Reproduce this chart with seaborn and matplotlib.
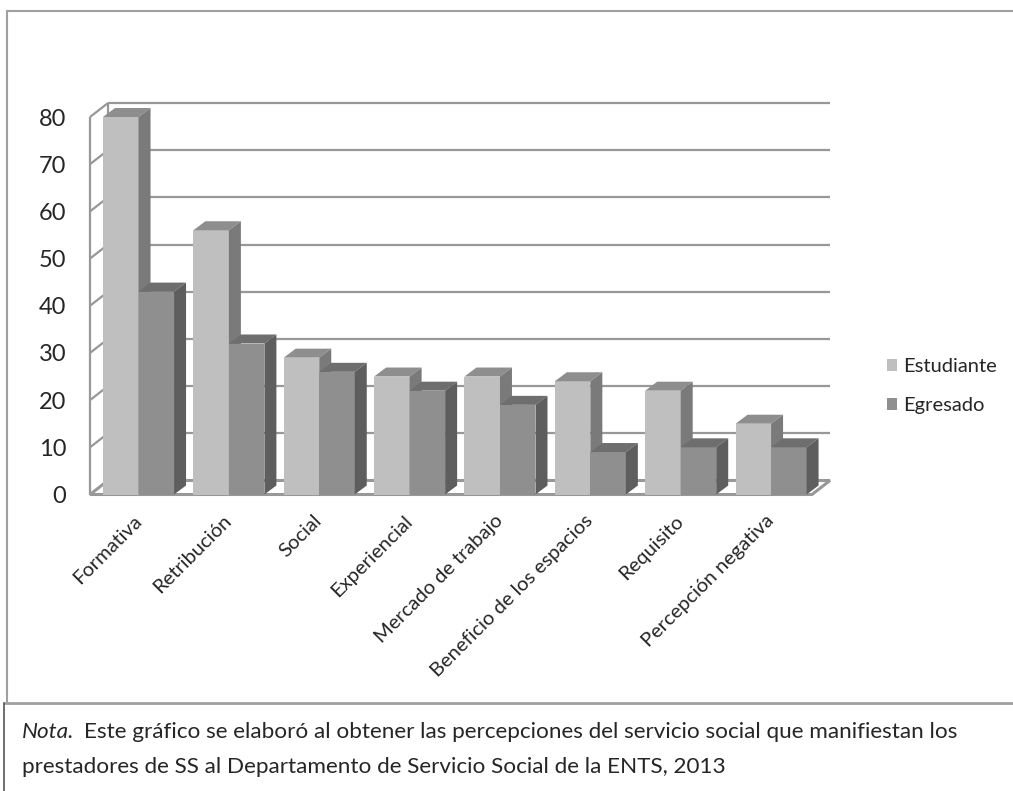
import pandas as pd
import seaborn as sns
import matplotlib.pyplot as plt
from matplotlib.patches import Polygon, Patch
from matplotlib.lines import Line2D
from matplotlib.transforms import IdentityTransform

categorias = ["Formativa", "Retribución", "Social", "Experiencial", "Mercado de trabajo",
              "Beneficio de los espacios", "Requisito", "Percepción negativa"]
estudiante = [80, 56, 29, 25, 25, 24, 22, 15]
egresado = [43, 32, 26, 22, 19, 9, 10, 10]
grupos = ["Estudiante", "Egresado"]
y_ticks = [0, 10, 20, 30, 40, 50, 60, 70, 80]

df = pd.DataFrame({
    "categoria": categorias * 2,
    "grupo": [grupos[0]] * len(estudiante) + [grupos[1]] * len(egresado),
    "valor": estudiante + egresado,
})

sns.set_style("white")
plt.rcParams["font.family"] = ["Lato", "DejaVu Sans"]

W, H = 1013, 791
fig = plt.figure(figsize=(W / 100, H / 100), dpi=100)


def fx(x):
    return x / W


def fy(y):
    return 1 - y / H


# colores: cara frontal, cara superior, cara lateral
colores = {"Estudiante": ("#bfbfbf", "#8e8e8e", "#7a7a7a"),
           "Egresado": ("#8f8f8f", "#6e6e6e", "#5e5e5e")}
gris = "#989898"

ax = fig.add_axes([fx(90), fy(494.5), fx(812) - fx(90), fy(117) - fy(494.5)])
sns.barplot(data=df, x="categoria", y="valor", hue="grupo", order=categorias,
            hue_order=grupos, palette={g: c[0] for g, c in colores.items()},
            width=0.786, saturation=1, linewidth=0, legend=False, ax=ax)
ax.set_xlim(-0.537, 7.453)
ax.set_ylim(0, 80)
ax.patch.set_visible(False)
for s in ax.spines.values():
    s.set_visible(False)
ax.set_xlabel("")
ax.set_ylabel("")

# profundidad (pixeles)
DX, DY = 18, 14   # paredes
BX, BY = 12, 9    # barras


def px(x, y):
    return ax.transData.transform((x, y))


def poly(pts, fc, ec="none", lw=0, z=1):
    p = Polygon(pts, closed=True, facecolor=fc, edgecolor=ec, linewidth=lw,
                transform=IdentityTransform(), clip_on=False, zorder=z)
    ax.add_patch(p)


def linea(xs, ys, z=0.5, lw=1.6):
    ax.add_line(Line2D(xs, ys, color=gris, linewidth=lw, transform=IdentityTransform(),
                       clip_on=False, zorder=z, solid_capstyle="butt"))


xmin, xmax = ax.get_xlim()
x0, y0 = px(xmin, 0)
x1, _ = px(xmax, 0)

# pared del fondo y pared lateral
for t in y_ticks[1:]:
    _, yt = px(xmin, t)
    linea([x0 + DX, x1 + DX], [yt + DY, yt + DY])
    linea([x0, x0 + DX], [yt, yt + DY])
_, ytop = px(xmin, y_ticks[-1])
linea([x0, x0], [y0, ytop])
linea([x0 + DX, x0 + DX], [y0 + DY, ytop + DY])

# piso
poly([(x0, y0), (x1, y0), (x1 + DX, y0 + DY), (x0 + DX, y0 + DY)],
     "white", ec=gris, lw=2.2, z=0.8)

# barras en 3D
barras = []
for g, cont in zip(grupos, ax.containers):
    for b in cont.patches:
        barras.append((b.get_x(), b, g))
barras.sort(key=lambda r: r[0])
for i, (_, b, g) in enumerate(barras):
    z = 2 + i * 0.01
    b.set_zorder(z)
    b.set_clip_on(False)
    bx0, by0 = px(b.get_x(), 0)
    bx1, by1 = px(b.get_x() + b.get_width(), b.get_height())
    poly([(bx0, by1), (bx1, by1), (bx1 + BX, by1 + BY), (bx0 + BX, by1 + BY)],
         colores[g][1], z=z)
    poly([(bx1, by0), (bx1 + BX, by0 + BY), (bx1 + BX, by1 + BY), (bx1, by1)],
         colores[g][2], z=z)

ax.set_yticks(y_ticks)
ax.tick_params(axis="y", length=0, pad=17, labelsize=17)
ax.tick_params(axis="x", length=0, pad=17)
ax.set_xticks(range(len(categorias)))
ax.set_xticklabels(categorias, rotation=45, ha="right", va="center",
                   rotation_mode="anchor", fontsize=14.5)

handles = [Patch(facecolor=colores[g][0], edgecolor="none") for g in grupos]
ax.legend(handles, grupos, loc="center left", bbox_to_anchor=(fx(869), fy(386)),
          bbox_transform=fig.transFigure, frameon=False, fontsize=14.5,
          handlelength=0.5, handleheight=0.5, handletextpad=0.3, labelspacing=1.1)

# marcos
fig.add_artist(Line2D([fx(7), fx(1013)], [fy(11), fy(11)], color="#a0a0a0", lw=1.5))
fig.add_artist(Line2D([fx(7), fx(7)], [fy(11), fy(703)], color="#a0a0a0", lw=1.5))
fig.add_artist(Line2D([fx(4), fx(1013)], [fy(703), fy(703)], color="#a0a0a0", lw=2))
fig.add_artist(Line2D([fx(4), fx(4)], [fy(703), fy(791)], color="#555555", lw=1.2))

fig.text(fx(22), fy(732), "Nota.", style="italic", fontsize=16.2, va="center")
fig.text(fx(84), fy(732), "Este gráfico se elaboró al obtener las percepciones del servicio "
         "social que manifiestan los", fontsize=16.2, va="center")
fig.text(fx(22), fy(767), "prestadores de SS al Departamento de Servicio Social de la ENTS, 2013",
         fontsize=16.2, va="center")

fig.savefig("out.png", dpi=100)
